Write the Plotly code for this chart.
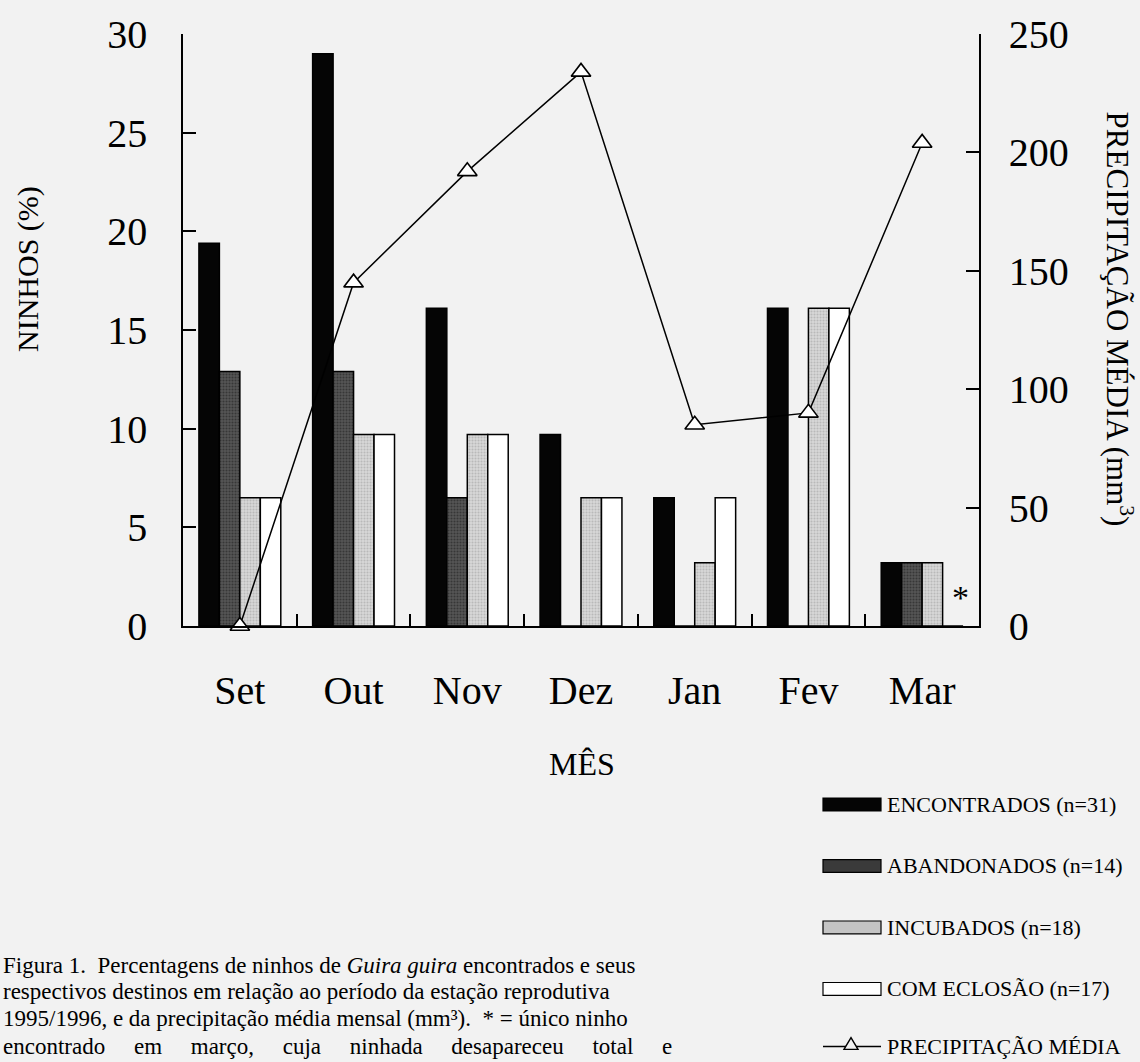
import plotly.graph_objects as go

months = ["Set", "Out", "Nov", "Dez", "Jan", "Fev", "Mar"]
encontrados = [19.4, 29.0, 16.1, 9.7, 6.5, 16.1, 3.2]
abandonados = [12.9, 12.9, 6.5, 0, 0, 0, 3.2]
incubados = [6.5, 9.7, 9.7, 6.5, 3.2, 16.1, 3.2]
com_eclosao = [6.5, 9.7, 9.7, 6.5, 6.5, 16.1, 0]
precipitacao = [0, 145, 192, 234, 85, 90, 204]

left_ticks = [0, 5, 10, 15, 20, 25, 30]
right_ticks = [0, 50, 100, 150, 200, 250]

legend_labels = ["ENCONTRADOS (n=31)", "ABANDONADOS (n=14)", "INCUBADOS (n=18)",
                 "COM ECLOSÃO (n=17)", "PRECIPITAÇÃO MÉDIA"]
caption_lines = [
    "Figura 1.  Percentagens de ninhos de <i>Guira guira</i> encontrados e seus",
    "respectivos destinos em relação ao período da estação reprodutiva",
    "1995/1996, e da precipitação média mensal (mm³).  * = único ninho",
    "encontrado em março, cuja ninhada desapareceu total e",
]

W, H = 1140, 1062
L, R, T, B = 183, 979, 29, 626
BG = "#f2f2f2"
FONT = "Liberation Serif"

def px_x(p):
    return (p - L) / (R - L)

def px_y(p):
    return (B - p) / (B - T)

fig = go.Figure()
line = dict(color="black", width=1.5)
fig.add_trace(go.Bar(x=months, y=encontrados, name=legend_labels[0],
                     marker=dict(color="#050505", line=line)))
fig.add_trace(go.Bar(x=months, y=abandonados, name=legend_labels[1],
                     marker=dict(color="#3a3a3a", line=line,
                                 pattern=dict(shape=".", fgcolor="#1a1a1a", bgcolor="#555555",
                                              size=3, solidity=0.4))))
fig.add_trace(go.Bar(x=months, y=incubados, name=legend_labels[2],
                     marker=dict(color="#c4c4c4", line=line,
                                 pattern=dict(shape=".", fgcolor="#999999", bgcolor="#d8d8d8",
                                              size=3, solidity=0.4))))
fig.add_trace(go.Bar(x=months, y=com_eclosao, name=legend_labels[3],
                     marker=dict(color="white", line=line)))
fig.add_trace(go.Scatter(x=months, y=precipitacao, name=legend_labels[4], yaxis="y2",
                         mode="lines+markers", line=dict(color="black", width=1.5),
                         marker=dict(symbol="triangle-up", size=17, color="white",
                                     line=dict(color="black", width=1.6)),
                         cliponaxis=False))

fig.update_layout(
    width=W, height=H,
    margin=dict(l=L, r=W - R, t=T, b=H - B),
    paper_bgcolor=BG, plot_bgcolor=BG,
    showlegend=False,
    barmode="group", bargap=0.28, bargroupgap=0,
    font=dict(family=FONT, color="black"),
    xaxis=dict(type="category", showline=True, linecolor="black", linewidth=1.5,
               ticks="inside", ticklen=12, tickwidth=1.5, tickcolor="black",
               tickson="boundaries", showgrid=False, zeroline=False,
               tickfont=dict(size=40, family=FONT), ticklabelstandoff=28),
    yaxis=dict(range=[0, 30], tickvals=left_ticks, showline=True, linecolor="black",
               linewidth=1.5, ticks="inside", ticklen=13, tickwidth=1.5, tickcolor="black",
               showgrid=False, zeroline=False, tickfont=dict(size=40, family=FONT),
               ticklabelstandoff=26),
    yaxis2=dict(range=[0, 250], tickvals=right_ticks, overlaying="y", side="right",
                showline=True, linecolor="black", linewidth=1.5, ticks="inside",
                ticklen=13, tickwidth=1.5, tickcolor="black", showgrid=False,
                zeroline=False, tickfont=dict(size=40, family=FONT), ticklabelstandoff=20),
)

ann = []
ann.append(dict(text="NINHOS (%)", xref="paper", yref="paper", x=px_x(28), y=px_y(266),
                xanchor="center", yanchor="middle",
                textangle=-90, showarrow=False, font=dict(size=30, family=FONT)))
ann.append(dict(text="PRECIPITAÇÃO MÉDIA (mm<sup>3</sup>)", xref="paper", yref="paper",
                x=px_x(1119), y=px_y(316), xanchor="center", yanchor="middle",
                textangle=90, showarrow=False, font=dict(size=31, family=FONT)))
ann.append(dict(text="MÊS", xref="paper", yref="paper", x=px_x(582), y=px_y(765),
                xanchor="center", yanchor="middle",
                showarrow=False, font=dict(size=32, family=FONT)))
ann.append(dict(text="*", xref="x", yref="y", x="Mar", y=0, xshift=38, yshift=8,
                yanchor="bottom", showarrow=False, font=dict(size=34, family=FONT)))

# caption
cap_y = [968, 995, 1022, 1050]
for i, (txt, yy) in enumerate(zip(caption_lines, cap_y)):
    if i == 3:
        txt = txt.replace(" ", "\u00a0" * 5)
    ann.append(dict(text=txt, xref="paper", yref="paper",
                    x=px_x(1), y=px_y(yy), xanchor="left", yanchor="middle",
                    showarrow=False, font=dict(size=23, family=FONT)))

# custom legend
shapes = []
leg_y = [806, 868, 930, 992, 1050]
fills = ["#050505", "#3a3a3a", "#c4c4c4", "white"]
for i, lab in enumerate(legend_labels):
    yy = leg_y[i]
    if i < 4:
        shapes.append(dict(type="rect", xref="paper", yref="paper",
                           x0=px_x(823), x1=px_x(881), y0=px_y(yy + 6.5), y1=px_y(yy - 6.5),
                           fillcolor=fills[i], line=dict(color="black", width=1.2)))
    else:
        shapes.append(dict(type="line", xref="paper", yref="paper",
                           x0=px_x(823), x1=px_x(881), y0=px_y(yy), y1=px_y(yy),
                           line=dict(color="black", width=1.5)))
        cx, cy = 851, yy - 2
        path = "M {:.5f},{:.5f} L {:.5f},{:.5f} L {:.5f},{:.5f} Z".format(
            px_x(cx - 7), px_y(cy + 5), px_x(cx + 7), px_y(cy + 5), px_x(cx), px_y(cy - 7))
        shapes.append(dict(type="path", xref="paper", yref="paper", path=path,
                           fillcolor=BG, line=dict(color="black", width=1.4)))
    ann.append(dict(text=lab, xref="paper", yref="paper", x=px_x(885),
                    y=px_y(yy), xanchor="left", yanchor="middle", showarrow=False,
                    font=dict(size=22, family=FONT)))

fig.update_layout(annotations=ann, shapes=shapes)

fig.write_html("out.html", config={"displayModeBar": False},
               post_script="document.body.style.margin='0px';")
